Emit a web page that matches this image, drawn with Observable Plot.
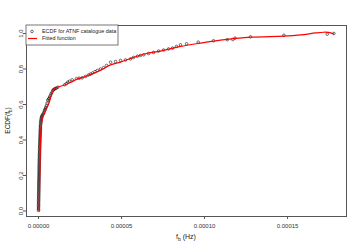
<!DOCTYPE html>
<html><head><meta charset="utf-8">
<script src="https://cdn.jsdelivr.net/npm/d3@7"></script>
<script src="https://cdn.jsdelivr.net/npm/@observablehq/plot@0.6"></script>
<style>body{margin:0;background:#fff;} svg{font-family:"Liberation Sans",Arial,sans-serif;}</style>
</head><body><div id="chart"></div>
<script>
// ECDF points (frequency Hz, ECDF)
const ecdfX = [
  0.0, 0.01e-6, 0.02e-6, 0.03e-6, 0.04e-6, 0.05e-6, 0.06e-6, 0.07e-6, 0.08e-6, 0.09e-6,
  0.10e-6, 0.11e-6, 0.12e-6, 0.13e-6, 0.14e-6, 0.15e-6, 0.16e-6, 0.17e-6, 0.18e-6, 0.19e-6,
  0.20e-6, 0.215e-6, 0.23e-6, 0.245e-6, 0.26e-6, 0.275e-6, 0.29e-6, 0.305e-6, 0.32e-6, 0.335e-6,
  0.35e-6, 0.365e-6, 0.38e-6, 0.395e-6, 0.41e-6, 0.425e-6, 0.44e-6, 0.455e-6, 0.47e-6, 0.485e-6,
  0.50e-6, 0.52e-6, 0.54e-6, 0.56e-6, 0.58e-6, 0.60e-6, 0.62e-6, 0.64e-6, 0.66e-6, 0.68e-6,
  0.70e-6, 0.725e-6, 0.75e-6, 0.775e-6, 0.80e-6, 0.825e-6, 0.85e-6, 0.875e-6, 0.90e-6, 0.93e-6,
  0.96e-6, 0.99e-6, 1.02e-6, 1.05e-6, 1.08e-6, 1.11e-6, 1.14e-6, 1.17e-6, 1.20e-6, 1.25e-6,
  1.30e-6, 1.37e-6, 1.45e-6, 1.55e-6, 1.65e-6,
  1.8e-6, 2.0e-6, 2.2e-6, 2.6e-6, 3.0e-6, 3.3e-6, 3.6e-6, 3.9e-6, 4.2e-6, 4.5e-6, 4.8e-6, 5.2e-6, 5.6e-6,
  6.0e-6, 6.3e-6, 6.7e-6, 7.2e-6, 7.6e-6, 8.1e-6, 8.6e-6, 9.1e-6, 9.6e-6, 1.01e-5, 1.07e-5, 1.16e-5,
  1.57e-5, 1.68e-5, 1.77e-5, 1.87e-5,
  2.03e-5, 2.29e-5, 2.45e-5, 2.63e-5, 2.83e-5, 3.01e-5, 3.12e-5, 3.25e-5, 3.40e-5, 3.54e-5, 3.73e-5, 3.92e-5, 4.10e-5, 4.34e-5,
  4.64e-5, 4.94e-5, 5.24e-5, 5.54e-5, 5.72e-5, 5.95e-5, 6.14e-5, 6.34e-5,
  6.63e-5, 6.93e-5, 7.23e-5, 7.53e-5, 7.83e-5, 8.07e-5, 8.31e-5,
  8.55e-5, 8.92e-5, 9.62e-5, 1.054e-4, 1.137e-4, 1.170e-4, 1.183e-4, 1.277e-4, 1.478e-4, 1.739e-4, 1.779e-4
];
const ecdfY = [
  0.003, 0.01, 0.017, 0.024, 0.031, 0.038, 0.045, 0.052, 0.059, 0.066,
  0.073, 0.080, 0.087, 0.094, 0.101, 0.108, 0.115, 0.122, 0.129, 0.136,
  0.143, 0.150, 0.157, 0.164, 0.171, 0.178, 0.185, 0.192, 0.199, 0.206,
  0.213, 0.220, 0.227, 0.234, 0.241, 0.248, 0.255, 0.262, 0.269, 0.276,
  0.283, 0.290, 0.297, 0.304, 0.311, 0.318, 0.325, 0.332, 0.339, 0.346,
  0.353, 0.360, 0.367, 0.374, 0.381, 0.388, 0.395, 0.402, 0.409, 0.416,
  0.423, 0.430, 0.437, 0.444, 0.451, 0.458, 0.465, 0.472, 0.479, 0.486,
  0.493, 0.500, 0.507, 0.514, 0.521,
  0.528, 0.533, 0.538, 0.544, 0.549, 0.557, 0.565, 0.571, 0.577, 0.585, 0.594, 0.608, 0.623,
  0.629, 0.634, 0.642, 0.651, 0.660, 0.668, 0.679, 0.683, 0.687, 0.690, 0.692, 0.697,
  0.711, 0.718, 0.726, 0.731,
  0.739, 0.746, 0.748, 0.750, 0.758, 0.766, 0.771, 0.777, 0.785, 0.792, 0.800, 0.808, 0.820, 0.838,
  0.842, 0.848, 0.851, 0.857, 0.865, 0.872, 0.876, 0.880,
  0.887, 0.893, 0.901, 0.907, 0.913, 0.918, 0.927,
  0.936, 0.942, 0.951, 0.959, 0.965, 0.966, 0.974, 0.981, 0.990, 0.996, 1.0
];
// Fitted function samples
const fitX = [4.2e-7, 7.8e-7, 1.2e-6, 1.69e-6, 2.4e-6, 3.19e-6, 4.8e-6, 6.2e-6, 7.65e-6, 8.6e-6, 9.6e-6,
  1.2e-5, 1.57e-5, 1.93e-5, 2.37e-5, 2.83e-5, 3.73e-5, 4.34e-5, 4.94e-5, 5.54e-5, 6.45e-5, 7.35e-5,
  8.55e-5, 9.76e-5, 1.096e-4, 1.277e-4, 1.476e-4, 1.578e-4, 1.669e-4, 1.717e-4, 1.747e-4, 1.777e-4];
const fitY = [0.0, 0.2, 0.397, 0.482, 0.521, 0.544, 0.577, 0.604, 0.651, 0.676, 0.690,
  0.699, 0.710, 0.724, 0.745, 0.758, 0.792, 0.823, 0.839, 0.859, 0.886, 0.901,
  0.927, 0.946, 0.963, 0.979, 0.985, 0.992, 1.003, 1.007, 1.006, 0.998];
const xTicks = [0, 0.00005, 0.0001, 0.00015];
const yTicks = [0, 0.2, 0.4, 0.6, 0.8, 1.0];
const legendLabels = ["ECDF for ATNF catalogue data", "Fitted function"];

const ecdf = ecdfX.map((x, i) => ({x, y: ecdfY[i]}));
const fit = fitX.map((x, i) => ({x, y: fitY[i]}));

const W = 359, H = 249, mL = 26, mR = 13, mT = 25, mB = 33;
const chart = Plot.plot({
  width: W, height: H,
  marginLeft: mL, marginRight: mR, marginTop: mT, marginBottom: mB,
  style: {fontFamily: "Liberation Sans, Arial, sans-serif", fontSize: "6px", color: "#333", background: "#fff"},
  x: {domain: [-0.00000723, 0.0001855]},
  y: {domain: [-0.031, 1.045]},
  marks: [
    Plot.frame({stroke: "#555", strokeWidth: 1}),
    Plot.axisX({ticks: xTicks, tickFormat: d3.format(".5f"), tickSize: 3, tickPadding: 4, label: null, stroke: "#555", fontSize: 6}),
    Plot.axisY({ticks: yTicks, tickFormat: d3.format(".1f"), tickSize: 3, tickPadding: 1, tickRotate: -90, textAnchor: "middle", label: null, stroke: "#555", fontSize: 6}),
    Plot.dot(ecdf, {x: "x", y: "y", r: 1.3, stroke: "#111", strokeWidth: 0.6, fill: "none"}),
    Plot.line(fit, {x: "x", y: "y", stroke: "#ff0000", strokeWidth: 1.2, curve: "catmull-rom"})
  ]
});
document.getElementById("chart").appendChild(chart);

const svg = d3.select(chart);
// x-axis title
const xt = svg.append("text").attr("x", (mL + W - mR) / 2).attr("y", 239)
  .attr("text-anchor", "middle").attr("font-size", 7).attr("fill", "#222");
xt.append("tspan").text("f");
xt.append("tspan").attr("font-size", 5).attr("dy", 1.5).text("b");
xt.append("tspan").attr("dy", -1.5).text(" (Hz)");
// y-axis title
const yt = svg.append("text").attr("transform", `translate(10,${(mT + H - mB) / 2}) rotate(-90)`)
  .attr("text-anchor", "middle").attr("font-size", 6.5).attr("fill", "#222");
yt.append("tspan").text("ECDF(f");
yt.append("tspan").attr("font-size", 4.5).attr("dy", 1.5).text("b");
yt.append("tspan").attr("dy", -1.5).text(")");
// legend
const lg = svg.append("g");
lg.append("rect").attr("x", 26).attr("y", 25).attr("width", 92).attr("height", 20)
  .attr("fill", "#fff").attr("stroke", "#555").attr("stroke-width", 0.8);
lg.append("circle").attr("cx", 32).attr("cy", 31.5).attr("r", 1.3).attr("fill", "none").attr("stroke", "#111").attr("stroke-width", 0.6);
lg.append("line").attr("x1", 28).attr("x2", 37).attr("y1", 38.5).attr("y2", 38.5).attr("stroke", "#ff0000").attr("stroke-width", 1.2);
lg.selectAll("text.lab").data(legendLabels).join("text").attr("class", "lab")
  .attr("x", 42).attr("y", (d, i) => 31.5 + i * 7).attr("dy", "0.35em").attr("text-anchor", "start")
  .attr("font-size", 5.4).attr("fill", "#222").text(d => d);
</script></body></html>
